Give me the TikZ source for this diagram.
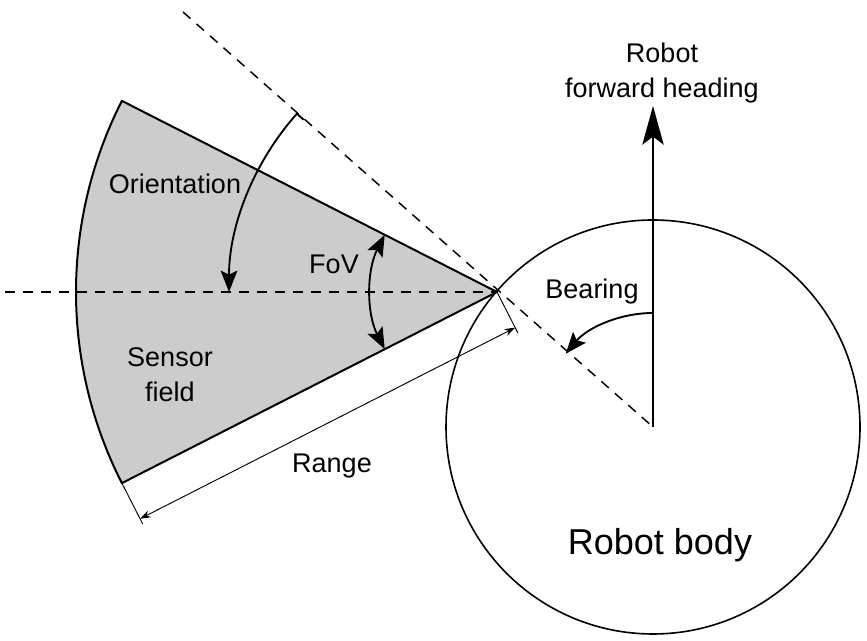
\documentclass[tikz,border=0pt]{standalone}
\usepackage{fontspec}
\setmainfont{Liberation Sans}
\usetikzlibrary{arrows.meta,calc}
\tikzset{
  lbl/.style={inner sep=0pt, align=center, font=\fontsize{20.25}{26}\selectfont},
  dashline/.style={line width=1.1pt, dash pattern=on 7.5pt off 6pt},
  bigarrow/.style={line width=1.4pt, -{Stealth[length=16pt,width=12.5pt,inset=3pt]}},
  bigarrows/.style={line width=1.4pt, {Stealth[length=16pt,width=12.5pt,inset=3pt]}-{Stealth[length=16pt,width=12.5pt,inset=3pt]}},
  dimline/.style={line width=0.7pt},
  sensor/.style={fill={rgb,255:red,204;green,204;blue,204}, draw=black, line width=1.5pt, line join=round}
}
\begin{document}
\begin{tikzpicture}[x=0.75pt,y=0.75pt]
\useasboundingbox (0,0) rectangle (867,641);
% key points
\coordinate (A) at (497,349);
\coordinate (C) at (653,214);
\coordinate (far) at (183,629);
\coordinate (hl) at (5,349);
\coordinate (L) at ($(A)+(207:421)$);
\coordinate (U) at ($(A)+(153:421)$);
% sensor field
\path[sensor] (A) -- (U) arc[start angle=153, end angle=207, radius=421] -- cycle;
% horizontal dashed line
\draw[dashline] (hl) -- (A);
% robot body
\node[draw, circle, line width=1.2pt, minimum size=414*0.75pt, inner sep=0pt] (body) at (C) {};
% diagonal dashed line
\draw[dashline] (far) -- (C);
% orientation arc
\draw[bigarrow] ($(A)+(138.3:259)$) -- ($(A)+(138.3:268)$) arc[start angle=138.3, end angle=180, radius=268];
% FoV arc
\draw[bigarrows] ($(A)+(153:126)$) arc[start angle=153, end angle=207, radius=126];
% bearing arc
\draw[bigarrow] ($(C)+(90:114)$) arc[start angle=90, end angle=140, radius=114];
% forward heading arrow
\coordinate (H) at (653,535);
\draw[line width=1.6pt, -{Stealth[length=29pt,width=16pt,inset=6pt]}] (C) -- (H);
% range dimension
\coordinate (A1) at ($(A)+(297:46)$);
\coordinate (L1) at ($(L)+(297:46)$);
\coordinate (A2) at ($(A)+(297:40)$);
\coordinate (L2) at ($(L)+(297:40)$);
\draw[dimline] (A) -- (A1);
\draw[dimline] (L) -- (L1);
\draw[dimline, {Stealth[length=8pt,width=5.5pt]}-{Stealth[length=8pt,width=5.5pt]}] (L2) -- (A2);
% labels
\node[lbl] (head) at (662,568) {Robot\\forward heading};
\node[lbl] (orient) at (175,457) {Orientation};
\node[lbl] (fov) at (334,377) {FoV};
\node[lbl] (sf) at (170,266) {Sensor\\field};
\node[lbl] (range) at (332,175) {Range};
\node[lbl] (bearing) at (592,349) {Bearing};
\node[lbl, font=\fontsize{27}{32}\selectfont] (rb) at (660,96) {Robot body};
\end{tikzpicture}
\end{document}
